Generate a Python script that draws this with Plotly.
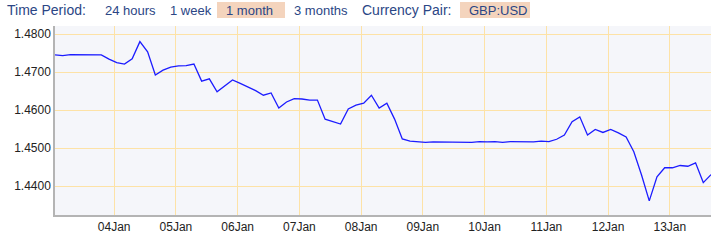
import plotly.graph_objects as go
import pandas as pd

# Data: GBP:USD rate, 3-hourly samples starting 2016-01-03 01:00
start_time = "2016-01-03 01:00"
step_hours = 3
rates = [
    1.4745, 1.4743, 1.4746, 1.4746, 1.4745, 1.4745, 1.4745, 1.4734, 1.4725, 1.4721,
    1.4735, 1.4780, 1.4753, 1.4692, 1.4705, 1.4713, 1.4716, 1.4717, 1.4721, 1.4676,
    1.4682, 1.4648, 1.4663, 1.4679, 1.4670, 1.4661, 1.4651, 1.4639, 1.4645, 1.4605,
    1.4621, 1.4630, 1.4629, 1.4626, 1.4626, 1.4576, 1.4570, 1.4563, 1.4603, 1.4613,
    1.4618, 1.4639, 1.4605, 1.4618, 1.4576, 1.4524, 1.4518, 1.4516, 1.4515, 1.4516,
    1.4516, 1.4515, 1.4515, 1.4516, 1.4515, 1.4517, 1.4516, 1.4517, 1.4515, 1.4517,
    1.4517, 1.4517, 1.4516, 1.4518, 1.4517, 1.4523, 1.4534, 1.4569, 1.4582, 1.4534,
    1.4549, 1.4541, 1.4549, 1.4540, 1.4529, 1.4490, 1.4429, 1.4361, 1.4424, 1.4448,
    1.4448, 1.4454, 1.4452, 1.4461, 1.4409, 1.4430,
]
times = pd.date_range(start=start_time, periods=len(rates), freq=f"{step_hours}h")

y_ticks = [1.44, 1.45, 1.46, 1.47, 1.48]
y_tick_labels = ["1.4400", "1.4500", "1.4600", "1.4700", "1.4800"]
x_range = ["2016-01-03 01:00", "2016-01-13 16:00"]
y_range = [1.43237, 1.48211]

period_options = ["24 hours", "1 week", "1 month", "3 months"]
period_x = [103, 168, 224, 292]
selected_period = "1 month"
pair_label = "GBP:USD"

L, R, T, B = 55, 3, 26, 26
W, H = 714, 241
pw, ph = W - L - R, H - T - B

def px_x(px):
    return (px - L) / pw

def px_y(py):
    return (H - B - py) / ph

fig = go.Figure()
fig.add_trace(go.Scatter(
    x=times, y=rates, mode="lines",
    line=dict(color="#1c1cff", width=1.3),
    hoverinfo="x+y", showlegend=False,
))

text_color = "#2b4685"
hl = "#f4d4bd"
fam = "Liberation Sans, Arial, sans-serif"
label_font = dict(family=fam, size=14, color=text_color)
btn_font = dict(family=fam, size=13, color=text_color)
ann = []
shapes = []
ann.append(dict(x=px_x(5), y=px_y(10), xref="paper", yref="paper", text="Time Period:",
                showarrow=False, xanchor="left", yanchor="middle", font=label_font))
for lbl, x0 in zip(period_options, period_x):
    if lbl == selected_period:
        shapes.append(dict(type="rect", xref="paper", yref="paper", x0=px_x(217), x1=px_x(285),
                           y0=px_y(18), y1=px_y(2), fillcolor=hl, line=dict(width=0), layer="below"))
    ann.append(dict(x=px_x(x0), y=px_y(10), xref="paper", yref="paper", text=lbl,
                    showarrow=False, xanchor="left", yanchor="middle", font=btn_font))
ann.append(dict(x=px_x(360), y=px_y(10), xref="paper", yref="paper", text="Currency Pair:",
                showarrow=False, xanchor="left", yanchor="middle", font=label_font))
shapes.append(dict(type="rect", xref="paper", yref="paper", x0=px_x(460), x1=px_x(530),
                   y0=px_y(18), y1=px_y(2), fillcolor=hl, line=dict(width=0), layer="below"))
ann.append(dict(x=px_x(467), y=px_y(10), xref="paper", yref="paper", text=pair_label,
                showarrow=False, xanchor="left", yanchor="middle", font=btn_font))

tick_font = dict(family=fam, size=12, color="#222222")
fig.update_layout(
    width=W, height=H,
    margin=dict(l=L, r=R, t=T, b=B, pad=0),
    paper_bgcolor="white",
    plot_bgcolor="#f5f6fa",
    annotations=ann,
    shapes=shapes,
    xaxis=dict(
        type="date", range=x_range, dtick=86400000, tick0="2016-01-04",
        tickformat="%d%b", showgrid=True, gridcolor="#fde2a6", gridwidth=1,
        showline=True, linecolor="#b4b4b4", linewidth=1.5, ticks="",
        tickfont=tick_font, zeroline=False, fixedrange=True,
    ),
    yaxis=dict(
        range=y_range, tickvals=y_ticks, ticktext=y_tick_labels,
        showgrid=True, gridcolor="#fde2a6", gridwidth=1,
        showline=True, linecolor="#b4b4b4", linewidth=1.5, ticks="",
        tickfont=tick_font, zeroline=False, fixedrange=True,
    ),
)
fig.write_html("out.html", config={"displayModeBar": False})
